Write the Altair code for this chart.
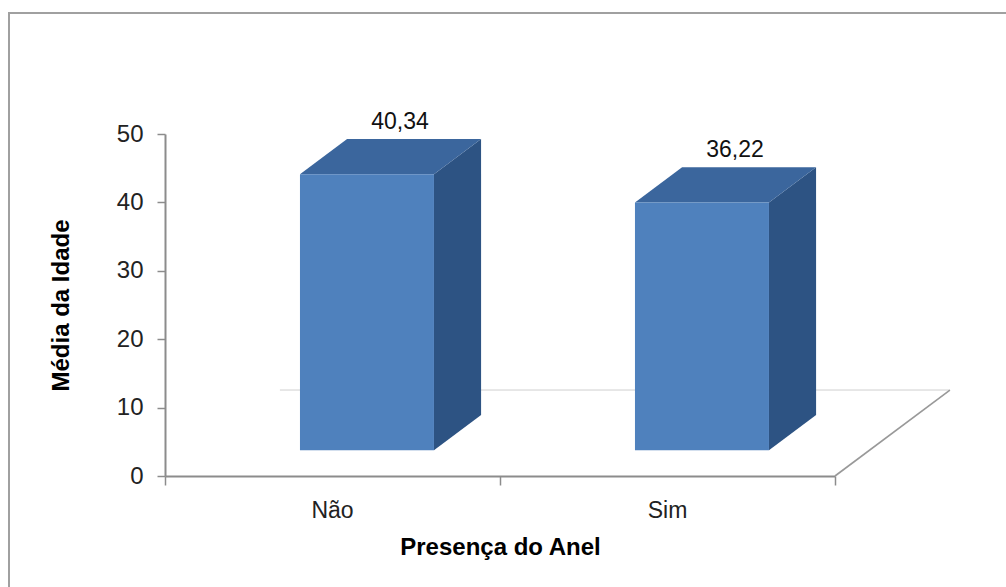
import altair as alt
import pandas as pd

# ---- data ----
categories = ["Não", "Sim"]
values = [40.34, 36.22]
value_labels = ["40,34", "36,22"]
x_title = "Presença do Anel"
y_title = "Média da Idade"
y_ticks = [0, 10, 20, 30, 40, 50]

# ---- 3D geometry (data units) ----
X_MAX = 2.0
Y_MAX = 50
W, H = 670, 342
FLOOR_DX = 0.343      # floor depth along x (data units)
FLOOR_DY = 12.57      # floor depth along y (data units)
BAR_W = 0.40
DEPTH0, DEPTH1 = 0.30, 0.71

FRONT_C = "#4F81BD"
TOP_C = "#3B669D"
SIDE_C = "#2D5383"
AXIS_C = "#8c8c8c"
FONT = "Liberation Sans"

front_rows, top_rows, side_rows, label_rows, cat_rows = [], [], [], [], []
d = (DEPTH1 - DEPTH0) * FLOOR_DX
e = (DEPTH1 - DEPTH0) * FLOOR_DY
for i, (c, v, lab) in enumerate(zip(categories, values, value_labels)):
    center = i + 0.5
    x0 = center - BAR_W / 2 + DEPTH0 * FLOOR_DX
    x1 = x0 + BAR_W
    y0 = DEPTH0 * FLOOR_DY
    y1 = v + y0
    front_rows.append({"cat": c, "x0": x0, "x1": x1, "y0": y0, "y1": y1})
    top_rows += [{"cat": c, "y": y1, "xa": x0, "xb": x1},
                 {"cat": c, "y": y1 + e, "xa": x0 + d, "xb": x1 + d}]
    side_rows += [{"cat": c, "x": x1, "ya": y0, "yb": y1},
                  {"cat": c, "x": x1 + d, "ya": y0 + e, "yb": y1 + e}]
    label_rows.append({"cat": c, "x": center + 0.5 * FLOOR_DX + 0.03, "y": y1 + e, "label": lab})
    cat_rows.append({"cat": c, "x": center})

front = pd.DataFrame(front_rows)
top = pd.DataFrame(top_rows)
side = pd.DataFrame(side_rows)
labels = pd.DataFrame(label_rows)
cats = pd.DataFrame(cat_rows)
floor_right = pd.DataFrame({"x": [X_MAX, X_MAX + FLOOR_DX], "y": [0, FLOOR_DY]})
floor_back = pd.DataFrame({"x": [FLOOR_DX, X_MAX + FLOOR_DX], "y": [FLOOR_DY, FLOOR_DY]})

xs = alt.Scale(domain=[0, X_MAX], nice=False, zero=False)
ys = alt.Scale(domain=[0, Y_MAX], nice=False)

x_axis = alt.Axis(
    values=[0, 1, 2], labels=False, tickSize=9, tickColor=AXIS_C, domainColor=AXIS_C,
    domainWidth=2, tickWidth=1.5, grid=False, title=x_title, titleFont=FONT,
    titleFontSize=24, titleFontWeight="bold", titleColor="#000000",
    titleY=78, titleBaseline="alphabetic")
y_axis = alt.Axis(
    values=y_ticks, tickSize=8, tickColor=AXIS_C, domainColor=AXIS_C, domainWidth=2,
    tickWidth=1.5, grid=False, labelFont=FONT, labelFontSize=24, labelColor="#222222",
    labelPadding=14, title=y_title, titleFont=FONT, titleFontSize=24,
    titleFontWeight="bold", titleColor="#000000", titleX=-104, titleBaseline="middle")


def X(f):
    return alt.X(f, scale=xs, axis=x_axis)


def Y(f):
    return alt.Y(f, scale=ys, axis=y_axis)


frame = alt.Chart(pd.DataFrame({"a": [0]})).mark_rect(
    fillOpacity=0, stroke="#a0a0a0", strokeWidth=2
).encode(x=alt.value(-156), x2=alt.value(900), y=alt.value(-121), y2=alt.value(520))

back_line = alt.Chart(floor_back).mark_line(color="#cfcfcf", strokeWidth=1).encode(
    x=X("x:Q"), y=Y("y:Q"))
right_line = alt.Chart(floor_right).mark_line(color="#999999", strokeWidth=1.6).encode(
    x=X("x:Q"), y=Y("y:Q"))

front_bars = alt.Chart(front).mark_rect(color=FRONT_C).encode(
    x=X("x0:Q"), x2="x1:Q", y=Y("y0:Q"), y2="y1:Q")

top_faces = alt.Chart(top).mark_area(orient="horizontal", color=TOP_C).encode(
    y=Y("y:Q"), x=X("xa:Q"), x2="xb:Q", detail="cat:N")
side_faces = alt.Chart(side).mark_area(orient="vertical", color=SIDE_C).encode(
    x=X("x:Q"), y=Y("ya:Q"), y2="yb:Q", detail="cat:N")

value_text = alt.Chart(labels).mark_text(
    font=FONT, fontSize=23, color="#111111", baseline="alphabetic", dy=-10
).encode(x=X("x:Q"), y=Y("y:Q"), text="label:N")

cat_text = alt.Chart(cats).mark_text(
    font=FONT, fontSize=23, color="#222222", baseline="alphabetic"
).encode(x=X("x:Q"), y=alt.value(H + 42), text="cat:N")

chart = alt.layer(
    back_line, right_line, side_faces, top_faces, front_bars, value_text, cat_text, frame
).properties(
    width=W, height=H,
    padding={"left": 165, "top": 134, "right": 171, "bottom": 111},
    autosize=alt.AutoSizeParams(type="none"),
    background="white",
).configure_view(stroke=None)

chart.save("out.html", embed_options={"renderer": "svg", "actions": False})
